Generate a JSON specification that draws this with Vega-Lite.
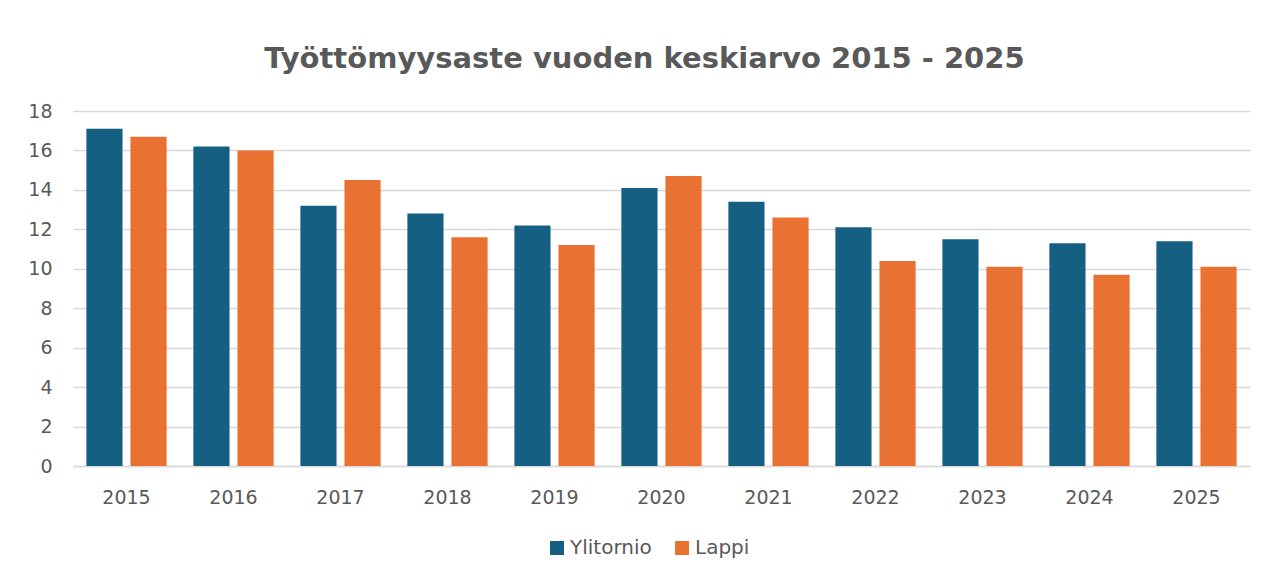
{
  "$schema": "https://vega.github.io/schema/vega-lite/v6.json",
  "width": 1177,
  "height": 355,
  "autosize": "none",
  "padding": {"left": 73, "top": 111, "right": 28, "bottom": 113},
  "background": "white",
  "title": {
    "text": "Työttömyysaste vuoden keskiarvo 2015 - 2025",
    "font": "DejaVu Sans",
    "fontSize": 29,
    "fontWeight": "bold",
    "color": "#595959",
    "anchor": "middle",
    "offset": 28,
    "dx": -17
  },
  "data": {
    "values": [
      {"vuosi": "2015", "alue": "Ylitornio", "arvo": 17.1},
      {"vuosi": "2015", "alue": "Lappi", "arvo": 16.7},
      {"vuosi": "2016", "alue": "Ylitornio", "arvo": 16.2},
      {"vuosi": "2016", "alue": "Lappi", "arvo": 16.0},
      {"vuosi": "2017", "alue": "Ylitornio", "arvo": 13.2},
      {"vuosi": "2017", "alue": "Lappi", "arvo": 14.5},
      {"vuosi": "2018", "alue": "Ylitornio", "arvo": 12.8},
      {"vuosi": "2018", "alue": "Lappi", "arvo": 11.6},
      {"vuosi": "2019", "alue": "Ylitornio", "arvo": 12.2},
      {"vuosi": "2019", "alue": "Lappi", "arvo": 11.2},
      {"vuosi": "2020", "alue": "Ylitornio", "arvo": 14.1},
      {"vuosi": "2020", "alue": "Lappi", "arvo": 14.7},
      {"vuosi": "2021", "alue": "Ylitornio", "arvo": 13.4},
      {"vuosi": "2021", "alue": "Lappi", "arvo": 12.6},
      {"vuosi": "2022", "alue": "Ylitornio", "arvo": 12.1},
      {"vuosi": "2022", "alue": "Lappi", "arvo": 10.4},
      {"vuosi": "2023", "alue": "Ylitornio", "arvo": 11.5},
      {"vuosi": "2023", "alue": "Lappi", "arvo": 10.1},
      {"vuosi": "2024", "alue": "Ylitornio", "arvo": 11.3},
      {"vuosi": "2024", "alue": "Lappi", "arvo": 9.7},
      {"vuosi": "2025", "alue": "Ylitornio", "arvo": 11.4},
      {"vuosi": "2025", "alue": "Lappi", "arvo": 10.1}
    ]
  },
  "mark": {"type": "bar"},
  "encoding": {
    "x": {
      "field": "vuosi",
      "type": "nominal",
      "title": null,
      "scale": {"paddingInner": 0.25, "paddingOuter": 0.125},
      "axis": {
        "labelAngle": 0,
        "ticks": false,
        "domain": true,
        "domainColor": "#d9d9d9",
        "domainWidth": 1.5,
        "labelFont": "DejaVu Sans",
        "labelFontSize": 19,
        "labelColor": "#595959",
        "labelPadding": 22
      }
    },
    "xOffset": {
      "field": "alue",
      "type": "nominal",
      "sort": ["Ylitornio", "Lappi"],
      "scale": {"paddingInner": 0.18, "paddingOuter": 0}
    },
    "y": {
      "field": "arvo",
      "type": "quantitative",
      "title": null,
      "scale": {"domain": [0, 18], "nice": false},
      "axis": {
        "values": [0, 2, 4, 6, 8, 10, 12, 14, 16, 18],
        "ticks": false,
        "domain": false,
        "grid": true,
        "gridColor": "#d9d9d9",
        "gridWidth": 1.5,
        "labelFont": "DejaVu Sans",
        "labelFontSize": 19,
        "labelColor": "#595959",
        "labelPadding": 21
      }
    },
    "color": {
      "field": "alue",
      "type": "nominal",
      "sort": ["Ylitornio", "Lappi"],
      "scale": {"domain": ["Ylitornio", "Lappi"], "range": ["#156082", "#E97132"]},
      "legend": {
        "title": null,
        "orient": "none",
        "legendX": 474,
        "legendY": 427,
        "direction": "horizontal",
        "symbolType": "square",
        "symbolSize": 196,
        "symbolStrokeWidth": 0,
        "labelFont": "DejaVu Sans",
        "labelFontSize": 20,
        "labelColor": "#595959",
        "columnPadding": 20,
        "labelOffset": 3
      }
    }
  },
  "config": {
    "view": {"stroke": null}
  }
}
